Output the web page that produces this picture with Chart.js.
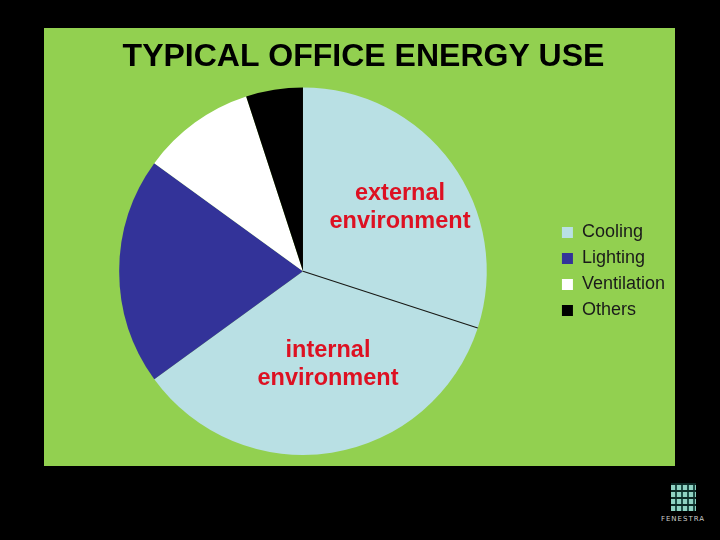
<!DOCTYPE html>
<html>
<head>
<meta charset="utf-8">
<script src="https://cdn.jsdelivr.net/npm/chart.js@4.4.1/dist/chart.umd.min.js"></script>
<style>
    html, body { margin: 0; padding: 0; background: #000; }
    #page { position: relative; width: 720px; height: 540px; background: #000; overflow: hidden; }
    #panel { position: absolute; left: 44px; top: 28px; width: 631px; height: 438px; background: #92d050; }
    #panel canvas { position: absolute; left: 0; top: 0; }
    .note { position: absolute; color: #dd1122; font: bold 23.5px "Liberation Sans", Arial, sans-serif;
            text-align: center; line-height: 28px; width: 220px; }
    #logo { position: absolute; left: 658px; top: 483px; width: 50px; text-align: center;
            color: #ccc; font: 7px "DejaVu Sans", sans-serif; letter-spacing: 1px; }
    #logo .mark { width: 25px; height: 28px; margin: 0 auto 4px auto;
            background:
                repeating-linear-gradient(0deg, transparent 0 5px, #0d2b27 5px 7px),
                repeating-linear-gradient(90deg, #8fd2c2 0 4px, #1d4d46 4px 6px); }
</style>
</head>
<body>
<div id="page">
    <div id="panel">
        <canvas id="chartEnergy" width="631" height="438"></canvas>
        <div class="note" style="left: 246px; top: 150px;">external<br>environment</div>
        <div class="note" style="left: 174px; top: 307px;">internal<br>environment</div>
    </div>
    <div id="logo"><div class="mark"></div>FENESTRA</div>
</div>
<script>
// Share of office energy use (%), cooling split into external / internal part
const sliceLabels = ['Cooling', 'Cooling (internal)', 'Lighting', 'Ventilation', 'Others'];
const sliceValues = [30, 35, 20, 10, 5];
const sliceColors = ['#b9e0e4', '#b9e0e4', '#333399', '#ffffff', '#000000'];

// Thin line between the two cooling slices
const splitLine = {
    id: 'splitLine',
    afterDatasetsDraw(chart) {
        const arc = chart.getDatasetMeta(0).data[1];
        if (!arc) return;
        const ctx = chart.ctx;
        ctx.save();
        ctx.strokeStyle = '#1a1a1a';
        ctx.lineWidth = 1.2;
        ctx.beginPath();
        ctx.moveTo(arc.x, arc.y);
        ctx.lineTo(arc.x + Math.cos(arc.startAngle) * arc.outerRadius,
                   arc.y + Math.sin(arc.startAngle) * arc.outerRadius);
        ctx.stroke();
        ctx.restore();
    }
};

const ctxEnergy = document.getElementById('chartEnergy').getContext('2d');
new Chart(ctxEnergy, {
    type: 'pie',
    data: {
        labels: sliceLabels,
        datasets: [{
            data: sliceValues,
            backgroundColor: sliceColors,
            borderWidth: 0
        }]
    },
    options: {
        responsive: false,
        animation: false,
        layout: {
            padding: { left: 8, top: 0, right: 0, bottom: 11 }
        },
        plugins: {
            title: {
                display: true,
                text: 'TYPICAL OFFICE ENERGY USE',
                color: '#000',
                font: { family: '"Liberation Sans", Arial, sans-serif', size: 32, weight: 'bold', lineHeight: 1.2 },
                padding: { top: 10, bottom: 11 }
            },
            legend: {
                position: 'right',
                title: {
                    display: true,
                    text: ' ',
                    font: { size: 10, lineHeight: 1 },
                    padding: { top: 25, bottom: 25 }
                },
                labels: {
                    color: '#1a1a1a',
                    font: { family: '"Liberation Sans", Arial, sans-serif', size: 18 },
                    boxWidth: 11,
                    boxHeight: 11,
                    padding: 8,
                    filter: function(item) {
                        return item.index !== 1;
                    }
                }
            },
            tooltip: { enabled: false }
        }
    },
    plugins: [splitLine]
});
</script>
</body>
</html>
